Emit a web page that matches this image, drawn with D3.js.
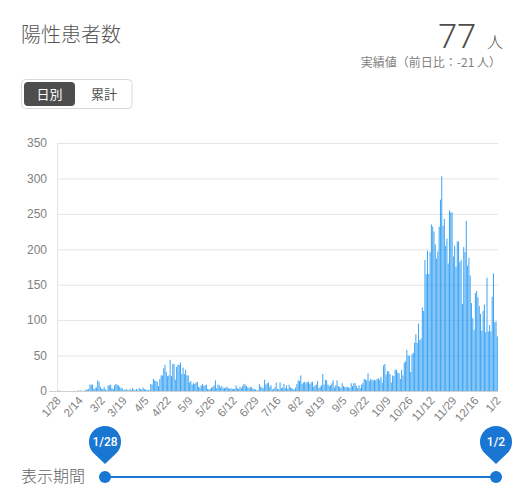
<!DOCTYPE html>
<html lang="ja">
<head>
<meta charset="utf-8">
<script src="https://cdn.jsdelivr.net/npm/d3@7"></script>
<style>
  html, body { margin: 0; padding: 0; background: #fff; }
  svg { display: block; }
  .jp { font-family: "Noto Sans CJK JP", sans-serif; }
  .tick text { font-family: "Liberation Sans", Arial, sans-serif; fill: #808080; }
</style>
</head>
<body>
<svg id="chart" width="526" height="489"></svg>
<script>
const tickLabels = ['1/28', '2/14', '3/2', '3/19', '4/5', '4/22', '5/9', '5/26', '6/12', '6/29', '7/16',
    '8/2', '8/19', '9/5', '9/22', '10/9', '10/26', '11/12', '11/29', '12/16', '1/2'];
const yTicks = [0, 50, 100, 150, 200, 250, 300, 350];

// one row per tick interval, 17 days each
const dailyCounts = [
    0, 1, 0, 0, 0, 0, 0, 0, 0, 0, 0, 0, 0, 0, 0, 0, 1,
    0, 1, 0, 0, 1, 2, 2, 3, 9, 9, 9, 3, 4, 5, 15, 13, 6,
    3, 3, 6, 2, 1, 8, 8, 9, 4, 3, 8, 10, 9, 8, 6, 4, 4,
    1, 2, 3, 1, 1, 3, 1, 4, 2, 1, 3, 1, 4, 3, 2, 5, 3,
    2, 1, 2, 1, 10, 9, 17, 15, 14, 13, 7, 17, 22, 22, 32, 37, 27,
    21, 22, 44, 21, 38, 38, 16, 34, 37, 37, 40, 24, 33, 24, 30, 22, 22,
    12, 14, 9, 11, 10, 12, 13, 6, 5, 8, 10, 7, 8, 9, 3, 2, 3,
    5, 6, 8, 15, 4, 9, 8, 5, 7, 4, 4, 5, 6, 4, 3, 4, 3,
    3, 3, 8, 4, 3, 6, 4, 7, 10, 9, 7, 5, 4, 6, 5, 3, 3,
    2, 1, 1, 10, 6, 5, 4, 16, 9, 11, 12, 6, 8, 2, 3, 5, 12,
    3, 2, 12, 4, 5, 10, 4, 8, 3, 9, 5, 4, 3, 2, 5, 10, 15,
    14, 22, 10, 12, 13, 11, 13, 13, 10, 12, 13, 6, 8, 9, 14, 4, 6,
    8, 24, 9, 16, 15, 9, 7, 8, 11, 15, 5, 8, 15, 7, 6, 4, 11,
    7, 6, 5, 6, 5, 4, 11, 7, 11, 11, 7, 4, 8, 4, 9, 11, 17,
    16, 15, 25, 14, 17, 16, 15, 16, 15, 17, 18, 16, 20, 12, 36, 38, 23,
    28, 28, 24, 12, 22, 21, 30, 30, 26, 25, 17, 30, 22, 40, 42, 58, 50,
    50, 27, 52, 54, 68, 80, 68, 95, 72, 74, 118, 113, 185, 165, 198, 165, 196,
    235, 232, 225, 207, 187, 197, 232, 270, 303, 233, 243, 205, 215, 180, 255, 252, 252,
    190, 205, 175, 211, 211, 182, 185, 123, 203, 196, 240, 177, 188, 163, 124, 103, 86,
    138, 141, 132, 120, 109, 85, 113, 122, 83, 160, 84, 93, 84, 133, 166, 97, 98,
    77
];

const svg = d3.select('#chart');
const plotLeft = 57, plotRight = 498, plotTop = 143, plotBottom = 391;

const x = d3.scaleBand().domain(d3.range(dailyCounts.length)).range([plotLeft, plotRight]).paddingInner(0.2).paddingOuter(0.1);
const y = d3.scaleLinear().domain([0, 350]).range([plotBottom, plotTop]);

// grid
svg.append('g').selectAll('line').data(yTicks).join('line')
    .attr('x1', plotLeft).attr('x2', plotRight)
    .attr('y1', d => y(d) + 0.5).attr('y2', d => y(d) + 0.5)
    .attr('stroke', '#e5e5e5');
svg.append('line')
    .attr('x1', plotLeft + 0.5).attr('x2', plotLeft + 0.5)
    .attr('y1', plotTop).attr('y2', plotBottom)
    .attr('stroke', '#e5e5e5');

// bars
svg.append('g').selectAll('rect').data(dailyCounts).join('rect')
    .attr('x', (d, i) => x(i))
    .attr('width', x.bandwidth())
    .attr('y', d => y(d))
    .attr('height', d => plotBottom - y(d))
    .attr('fill', '#2196f3')
    .attr('fill-opacity', 0.85);

svg.append('line')
    .attr('x1', plotLeft - 8).attr('x2', plotRight)
    .attr('y1', plotBottom + 0.5).attr('y2', plotBottom + 0.5)
    .attr('stroke', '#d0d0d0');

// y axis
const yAxis = svg.append('g')
    .attr('transform', 'translate(' + plotLeft + ',0)')
    .call(d3.axisLeft(y).tickValues(yTicks).tickSize(0).tickPadding(10));
yAxis.select('.domain').remove();
yAxis.selectAll('text').style('font-size', '12px');

// x axis, one label every 17 days
const tickIndex = tickLabels.map((d, i) => i * 17);
const xAxis = svg.append('g')
    .attr('transform', 'translate(0,' + plotBottom + ')')
    .call(d3.axisBottom(x).tickValues(tickIndex).tickSize(0).tickFormat((d, i) => tickLabels[i]));
xAxis.select('.domain').remove();
xAxis.selectAll('text')
    .style('font-size', '11.5px')
    .attr('text-anchor', 'end')
    .attr('dy', 0)
    .attr('y', 0)
    .attr('transform', 'translate(4,10) rotate(-48)');

// header
function label(px, py, str, size, color, anchor, cls) {
    return svg.append('text')
        .attr('class', cls === undefined ? 'jp' : cls)
        .attr('x', px).attr('y', py)
        .attr('text-anchor', anchor || 'start')
        .attr('fill', color)
        .style('font-size', size + 'px')
        .text(str);
}
label(21, 42, '陽性患者数', 20, '#555555').style('font-weight', 300);
label(476, 48, '77', 34, '#4d4d4d', 'end', '').style('font-family', 'Roboto, sans-serif').style('font-weight', 300);
label(503, 48, '人', 16, '#4d4d4d', 'end').style('font-weight', 300);
label(501, 67, '実績値（前日比：-21 人）', 12, '#808080', 'end');

// toggle
svg.append('rect').attr('x', 21.5).attr('y', 79.5).attr('width', 110.5).attr('height', 29).attr('rx', 4)
    .attr('fill', '#fff').attr('stroke', '#d9d9d9');
svg.append('rect').attr('x', 24).attr('y', 82).attr('width', 51).attr('height', 24).attr('rx', 4)
    .attr('fill', '#4d4d4d');
label(49.5, 98.5, '日別', 13, '#fff', 'middle');
label(104, 98.5, '累計', 13, '#4d4d4d', 'middle');

// period slider
const sliderY = 477, pinR = 16;
const sliderPos = [105, 496];
const sliderLabels = [tickLabels[0], tickLabels[tickLabels.length - 1]];
label(21, 482, '表示期間', 16, '#666666').style('font-weight', 300);
svg.append('line').attr('x1', sliderPos[0]).attr('x2', sliderPos[1])
    .attr('y1', sliderY).attr('y2', sliderY)
    .attr('stroke', '#1976d2').attr('stroke-width', 2);
sliderPos.forEach((px, i) => {
    svg.append('circle').attr('cx', px).attr('cy', sliderY).attr('r', 6).attr('fill', '#1976d2');
    const cy = 442;
    svg.append('path')
        .attr('d', 'M' + px + ',464 L' + (px - pinR * 0.72) + ',' + (cy + pinR * 0.69)
            + ' A' + pinR + ',' + pinR + ' 0 1,1 ' + (px + pinR * 0.72) + ',' + (cy + pinR * 0.69) + ' Z')
        .attr('fill', '#1976d2');
    label(px, 446, sliderLabels[i], 12, '#fff', 'middle', '')
        .style('font-family', 'Roboto, sans-serif').style('font-weight', 500);
});
</script>
</body>
</html>
